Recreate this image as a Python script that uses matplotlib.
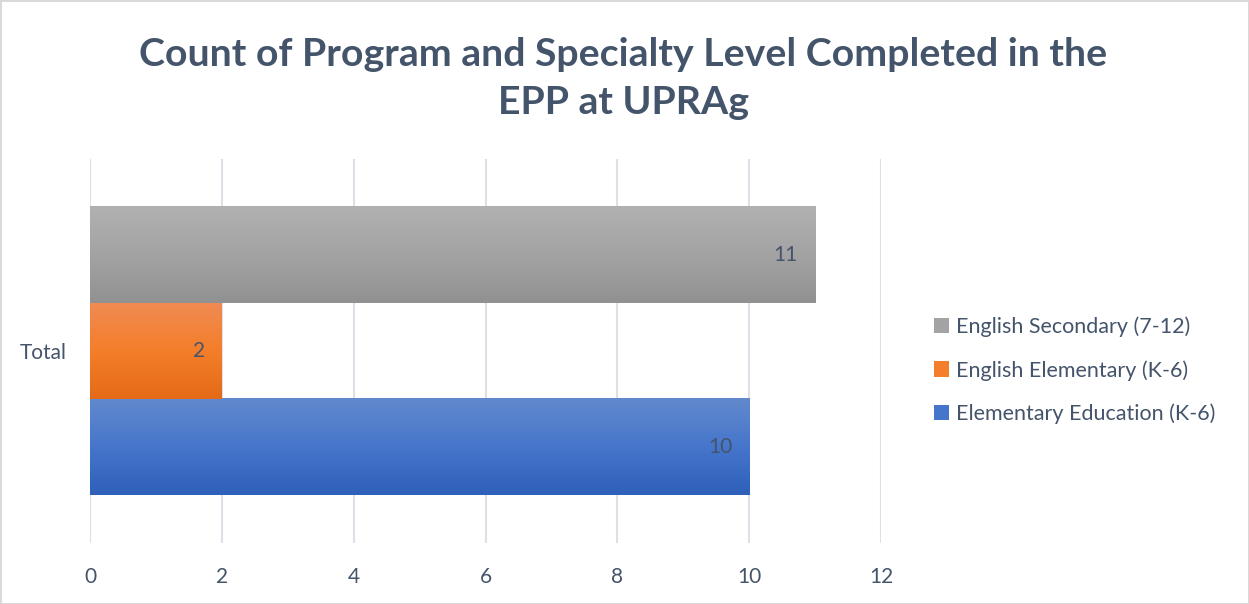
import numpy as np
import matplotlib
matplotlib.use('Agg')
import matplotlib.pyplot as plt
from matplotlib.colors import LinearSegmentedColormap
from matplotlib.patches import Patch

plt.rcParams['font.family'] = ['Lato', 'DejaVu Sans']

TEXT = '#44546a'

# data (bottom bar first)
programs = ['Elementary Education (K-6)', 'English Elementary (K-6)', 'English Secondary (7-12)']
counts = [10, 2, 11]
group_label = 'Total'
x_ticks = [0, 2, 4, 6, 8, 10, 12]

# top -> middle -> bottom gradient stops per series
gradients = [
    ['#6289cd', '#4676cb', '#2e60ba'],
    ['#f08b54', '#f47e2a', '#e46a18'],
    ['#b1b1b1', '#a3a3a3', '#919191'],
]

fig = plt.figure(figsize=(12.49, 6.04), dpi=100)
fig.patch.set_edgecolor('#d9d9d9')
fig.patch.set_linewidth(2)
ax = fig.add_axes([0.0721, 0.101, 0.6333, 0.6358])

bar_h = 0.25
offsets = [-bar_h, 0.0, bar_h]
bars = ax.barh(offsets, counts, height=bar_h, color='none', zorder=2)

handles = []
for rect, stops, val, name in zip(bars, gradients, counts, programs):
    x0, y0 = rect.get_x(), rect.get_y()
    w, h = rect.get_width(), rect.get_height()
    cmap = LinearSegmentedColormap.from_list('g', stops)
    grad = np.linspace(0, 1, 256).reshape(-1, 1)
    ax.imshow(grad, cmap=cmap, extent=(x0, x0 + w, y0, y0 + h),
              origin='upper', aspect='auto', zorder=2, interpolation='bilinear')
    ax.text(x0 + w - 0.26, y0 + h / 2, str(val), ha='right', va='center',
            fontsize=15, color=TEXT, zorder=3)
    handles.append(Patch(facecolor=stops[1], label=name))

ax.set_xlim(0, 12)
ax.set_ylim(-0.5, 0.5)
ax.set_xticks(x_ticks)
ax.set_yticks([0])
ax.set_yticklabels([group_label])
ax.tick_params(axis='both', length=0, labelsize=15, labelcolor=TEXT)
ax.tick_params(axis='x', pad=17)
ax.tick_params(axis='y', pad=17)
ax.grid(axis='x', color='#dde1e7', linewidth=1.5, zorder=0)
ax.set_axisbelow(True)
for s in ax.spines.values():
    s.set_visible(False)

fig.text(0.499, 0.870, 'Count of Program and Specialty Level Completed in the\nEPP at UPRAg',
         ha='center', va='center', fontsize=28.3, fontweight='bold', color=TEXT,
         linespacing=1.45)

leg = fig.legend(handles=handles[::-1], loc='center left', bbox_to_anchor=(0.7324, 0.387),
                 frameon=False, fontsize=15.5, handlelength=0.7, handleheight=0.7,
                 handletextpad=0.3, labelspacing=1.05)
for t in leg.get_texts():
    t.set_color(TEXT)

fig.savefig('out.png', dpi=100)
